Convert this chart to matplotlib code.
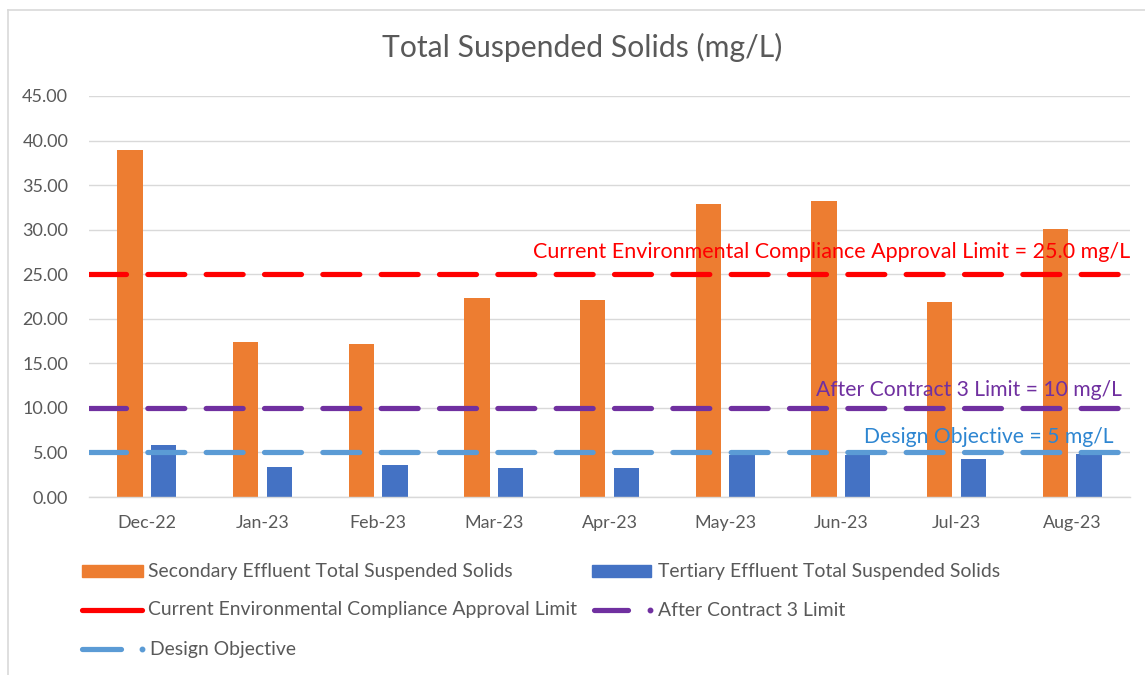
import matplotlib
matplotlib.use("Agg")
import matplotlib.pyplot as plt
import matplotlib.transforms as mtransforms
from matplotlib.lines import Line2D
from matplotlib.patches import Rectangle
import numpy as np

# ---------------- data ----------------
months = ["Dec-22", "Jan-23", "Feb-23", "Mar-23", "Apr-23",
          "May-23", "Jun-23", "Jul-23", "Aug-23"]
secondary_tss = [38.9, 17.4, 17.2, 22.3, 22.1, 32.9, 33.2, 21.9, 30.1]
tertiary_tss = [5.8, 3.4, 3.6, 3.2, 3.2, 4.7, 4.7, 4.3, 4.8]
eca_limit = 25.0
contract3_limit = 10.0
design_objective = 5.0
y_ticks = [0, 5, 10, 15, 20, 25, 30, 35, 40, 45]

title = "Total Suspended Solids (mg/L)"
name_secondary = "Secondary Effluent Total Suspended Solids"
name_tertiary = "Tertiary Effluent Total Suspended Solids"
name_eca = "Current Environmental Compliance Approval Limit"
name_c3 = "After Contract 3 Limit"
name_design = "Design Objective"
note_eca = "Current Environmental Compliance Approval Limit = 25.0 mg/L"
note_c3 = "After Contract 3 Limit = 10 mg/L"
note_design = "Design Objective = 5 mg/L"

# ---------------- style ----------------
C_ORANGE = "#ED7D31"
C_BLUE = "#4472C4"
C_RED = "#FF0000"
C_PURPLE = "#7030A0"
C_LBLUE = "#5B9BD5"
C_LBLUE_TXT = "#2E86D1"
C_TEXT = "#595959"
C_GRID = "#D9D9D9"
FONT = ["Lato", "DejaVu Sans"]
plt.rcParams["font.family"] = FONT

W, H = 1145, 675
fig = plt.figure(figsize=(W / 100, H / 100), dpi=100)
renderer = fig.canvas.get_renderer()


def size_for(s, target_px, base=10):
    t = fig.text(0, 0, s, fontsize=base)
    w = t.get_window_extent(renderer).width
    t.remove()
    return base * target_px / w


def fx(px):
    return px / W


def fy(py):
    return 1 - py / H


ax = fig.add_axes([fx(89), fy(497), fx(1130) - fx(89), fy(96) - fy(497)])

x = np.arange(len(months))
bw = 0.22
off = 0.145
ax.bar(x - off, secondary_tss, bw, color=C_ORANGE, zorder=2)
ax.bar(x + off, tertiary_tss, bw, color=C_BLUE, zorder=2)

lw = 3.75
dash = (7.1, 4.1)
for val, col in [(eca_limit, C_RED), (contract3_limit, C_PURPLE), (design_objective, C_LBLUE)]:
    ax.axhline(val, color=col, lw=lw, dashes=dash, dash_capstyle="round", zorder=3)

ax.set_xlim(-0.5, len(months) - 0.5)
ax.set_ylim(0, 45)
ax.set_yticks(y_ticks)
ax.set_yticklabels([f"{v:.2f}" for v in y_ticks])
ax.set_xticks(x)
ax.set_xticklabels(months)
ax.grid(axis="y", color=C_GRID, lw=1.0, zorder=0)
ax.set_axisbelow(True)
for s in ["top", "right", "left"]:
    ax.spines[s].set_visible(False)
ax.spines["bottom"].set_color(C_GRID)
ax.spines["bottom"].set_linewidth(1.0)

ytick_fs = size_for("45.00", 46)
xtick_fs = size_for("Dec-22", 59)
ax.tick_params(axis="y", length=0, pad=15, labelsize=ytick_fs, labelcolor=C_TEXT)
ax.tick_params(axis="x", length=0, pad=13, labelsize=xtick_fs, labelcolor=C_TEXT)

# title
fig.text(fx(582), fy(47), title, ha="center", va="center",
         fontsize=size_for(title, 400), color=C_TEXT)

# annotations
trans = mtransforms.blended_transform_factory(ax.transAxes, ax.transData)
ax.text(1.0, 27.5, note_eca, transform=trans, ha="right", va="center",
        color=C_RED, fontsize=size_for(note_eca, 598), zorder=5)
ax.text(0.992, 12.0, note_c3, transform=trans, ha="right", va="center",
        color=C_PURPLE, fontsize=size_for(note_c3, 305), zorder=5)
ax.text(0.984, 6.7, note_design, transform=trans, ha="right", va="center",
        color=C_LBLUE_TXT, fontsize=size_for(note_design, 248), zorder=5)

# legend (drawn manually to mimic the flowing layout)
leg_fs = size_for(name_secondary, 364)


def leg_text(px, py, s):
    fig.text(fx(px), fy(py), s, ha="left", va="center", fontsize=leg_fs, color=C_TEXT)


def leg_rect(x0, x1, py, col):
    fig.add_artist(Rectangle((fx(x0), fy(py + 6)), fx(x1) - fx(x0), fy(py - 6) - fy(py + 6),
                             transform=fig.transFigure, color=col))


def leg_line(x0, x1, py, col, dot=None):
    fig.add_artist(Line2D([fx(x0), fx(x1)], [fy(py), fy(py)], transform=fig.transFigure,
                          color=col, lw=lw, solid_capstyle="round"))
    if dot is not None:
        fig.add_artist(Line2D([fx(dot)], [fy(py)], transform=fig.transFigure,
                              marker="o", ms=3.2, color=col, lw=0))


leg_rect(82, 143, 571, C_ORANGE)
leg_text(148, 571, name_secondary)
leg_rect(592, 651, 571, C_BLUE)
leg_text(658, 571, name_tertiary)

leg_line(82, 142, 610, C_RED)
leg_text(148, 610, name_eca)
leg_line(594, 628, 610, C_PURPLE, dot=650)
leg_text(658, 610, name_c3)

leg_line(82, 121, 649, C_LBLUE, dot=142)
leg_text(150, 649, name_design)

# outer chart border (left & top visible)
fig.add_artist(Line2D([fx(7.5), fx(7.5)], [fy(10), fy(H + 5)], transform=fig.transFigure,
                      color=C_GRID, lw=1.2))
fig.add_artist(Line2D([fx(7.5), fx(W + 5)], [fy(10), fy(10)], transform=fig.transFigure,
                      color=C_GRID, lw=1.2))

fig.savefig("out.png", dpi=100)
